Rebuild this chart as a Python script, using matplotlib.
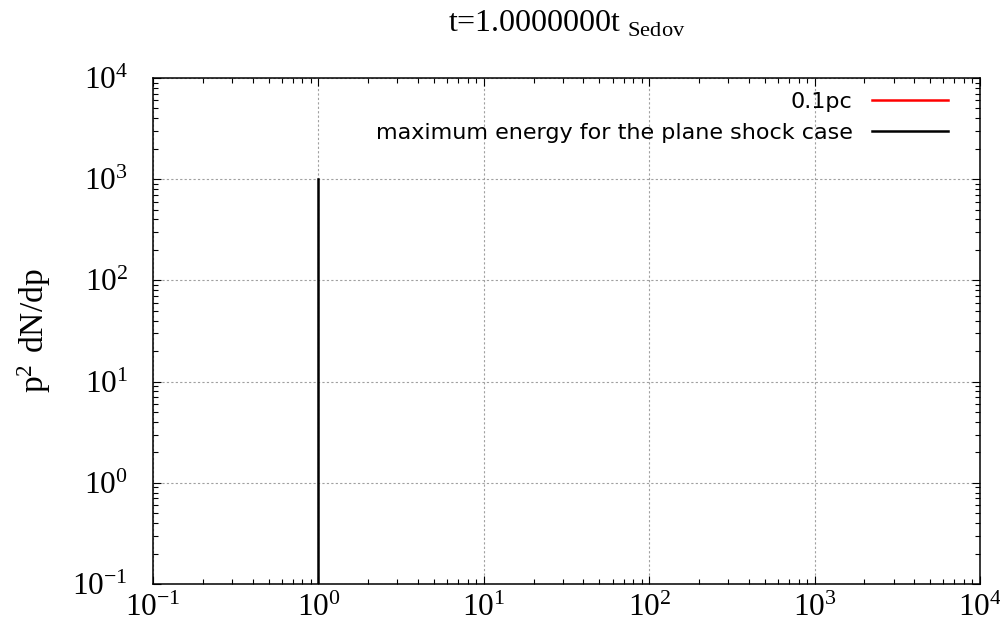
import numpy as np
import matplotlib
matplotlib.use("Agg")
import matplotlib.pyplot as plt
from matplotlib.ticker import FuncFormatter, LogLocator

plt.rcParams['font.family'] = ['Liberation Serif', 'DejaVu Serif']

# 0.1pc spectrum (nothing inside the plotted range at t = t_Sedov)
pc01_p = []
pc01_f = []
# maximum energy for the plane shock case
pmax_p = [1.0, 1.0]
pmax_f = [1e-1, 1e3]

x_range = (1e-1, 1e4)
y_range = (1e-1, 1e4)

fig = plt.figure(figsize=(10, 6.27), dpi=100)
ax = fig.add_axes([0.153, 0.0686, 0.827, 0.807])

ax.plot(pc01_p, pc01_f, color='red', lw=1.8, label='0.1pc')
ax.plot(pmax_p, pmax_f, color='black', lw=1.8,
        label='maximum energy for the plane shock case')

ax.set_xscale('log')
ax.set_yscale('log')
ax.set_xlim(*x_range)
ax.set_ylim(*y_range)

fmt = FuncFormatter(lambda v, pos: r'$\mathregular{10^{%d}}$' % round(np.log10(v)))
for axis in (ax.xaxis, ax.yaxis):
    axis.set_major_locator(LogLocator(base=10, numticks=10))
    axis.set_minor_locator(LogLocator(base=10, subs=np.arange(2, 10), numticks=20))
    axis.set_major_formatter(fmt)

ax.tick_params(which='both', direction='in', top=True, right=True, width=0.8)
ax.tick_params(which='major', length=6, labelsize=22.5)
ax.tick_params(which='minor', length=3.5)
ax.tick_params(axis='x', which='major', pad=7)
ax.tick_params(axis='y', which='major', pad=18)
for s in ax.spines.values():
    s.set_linewidth(1.1)

ax.grid(True, which='major', color='#a0a0a0', linestyle=(0, (2, 2)), lw=0.8)

ax.set_title(r't=1.0000000t$_{\mathregular{\ Sedov}}$', fontsize=23, pad=33.5)
ax.set_ylabel(r'$\mathregular{p^{2}\ dN/dp}$', fontsize=24, labelpad=14)

leg = ax.legend(loc='upper right', bbox_to_anchor=(0.9613, 0.972), frameon=False,
                markerfirst=False, handlelength=3.4, handletextpad=0.9,
                labelspacing=0.5, borderpad=0, borderaxespad=0,
                prop={'family': 'DejaVu Sans', 'size': 16})

fig.savefig('out.png', dpi=100)
